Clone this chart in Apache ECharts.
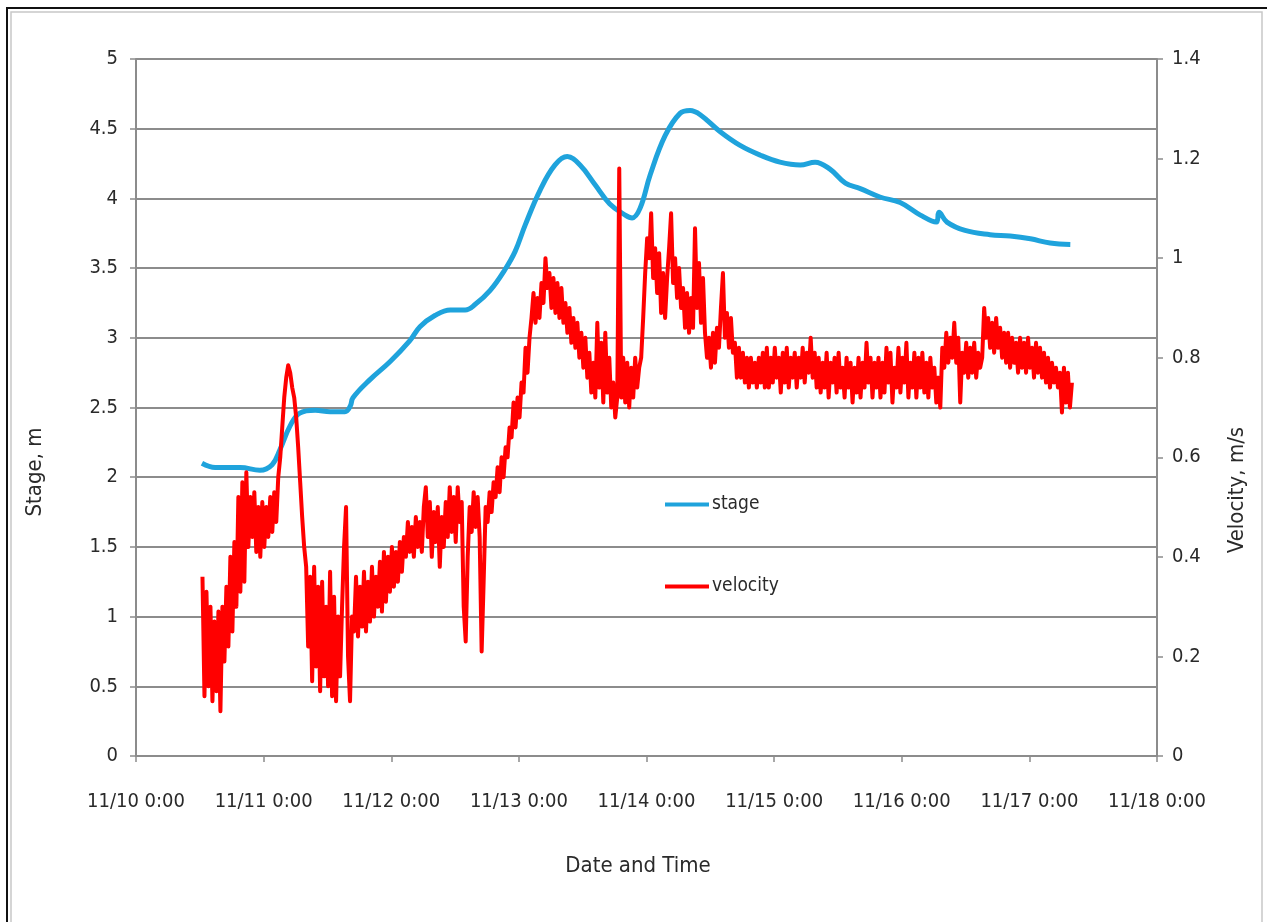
<!DOCTYPE html>
<html>
<head>
<meta charset="utf-8">
<title>Stage and velocity</title>
<script src="https://cdn.jsdelivr.net/npm/echarts@6/dist/echarts.min.js"></script>
<style>
  html, body { margin: 0; padding: 0; background: #ffffff; }
  #chart { width: 1267px; height: 922px; }
</style>
</head>
<body>
<div id="chart"></div>
<script>
// x axis: hours since 11/10 0:00, one label per day
const dayLabels = ['11/10 0:00', '11/11 0:00', '11/12 0:00', '11/13 0:00', '11/14 0:00',
                   '11/15 0:00', '11/16 0:00', '11/17 0:00', '11/18 0:00'];

// stage record (m), hours since 11/10 0:00
const stageHours = [12.4, 14.9, 19.6, 23.3, 25.6, 27.1, 29.0, 30.8, 33.7, 36.5,
                    39.3, 40.3, 40.8, 44.0, 47.8, 51.5, 53.4, 56.2, 59.1, 61.9,
                    63.8, 66.6, 69.4, 71.3, 73.2, 76.0, 78.8, 81.1, 83.5, 86.3,
                    89.1, 92.0, 93.3, 94.8, 96.7, 99.5, 102.3, 104.2, 106.1, 109.8,
                    113.6, 117.4, 121.1, 124.9, 127.7, 130.5, 133.4, 136.2, 139.9, 143.7,
                    147.5, 150.5, 151.0, 152.5, 155.9, 160.6, 164.4, 168.2, 171.9, 175.7];
const stageValues = [2.10, 2.07, 2.07, 2.05, 2.09, 2.20, 2.37, 2.46, 2.48, 2.47,
                     2.47, 2.51, 2.57, 2.70, 2.83, 2.98, 3.08, 3.16, 3.20, 3.20,
                     3.24, 3.34, 3.49, 3.62, 3.81, 4.06, 4.24, 4.30, 4.24, 4.10,
                     3.96, 3.88, 3.86, 3.93, 4.17, 4.45, 4.61, 4.63, 4.60, 4.48,
                     4.38, 4.31, 4.26, 4.24, 4.26, 4.21, 4.11, 4.07, 4.01, 3.97,
                     3.88, 3.83, 3.90, 3.83, 3.77, 3.74, 3.73, 3.71, 3.68, 3.67];

// velocity record (m/s), logged every 22.5 minutes from 11/10 12:30
const velocityStartHour = 12.5;
const velocityStepHours = 0.375;
const velocityValues = [
  0.36, 0.12, 0.33, 0.14, 0.30, 0.11, 0.27, 0.13, 0.29, 0.09,
  0.30, 0.19, 0.34, 0.22, 0.40, 0.25, 0.43, 0.30, 0.52, 0.33,
  0.55, 0.35, 0.57, 0.42, 0.52, 0.44, 0.53, 0.41, 0.50, 0.40,
  0.51, 0.42, 0.50, 0.44, 0.52, 0.45, 0.53, 0.47, 0.56, 0.60,
  0.66, 0.72, 0.76, 0.785, 0.77, 0.74, 0.72, 0.68, 0.62, 0.55,
  0.48, 0.42, 0.38, 0.22, 0.36, 0.15, 0.38, 0.18, 0.34, 0.13,
  0.35, 0.16, 0.30, 0.14, 0.37, 0.12, 0.32, 0.11, 0.28, 0.16,
  0.30, 0.42, 0.50, 0.20, 0.11, 0.28, 0.25, 0.36, 0.24, 0.34,
  0.26, 0.37, 0.25, 0.35, 0.27, 0.38, 0.28, 0.36, 0.30, 0.39,
  0.29, 0.41, 0.31, 0.40, 0.33, 0.42, 0.34, 0.41, 0.35, 0.43,
  0.37, 0.44, 0.40, 0.47, 0.41, 0.46, 0.40, 0.48, 0.42, 0.47,
  0.41, 0.50, 0.54, 0.44, 0.51, 0.40, 0.49, 0.43, 0.50, 0.38,
  0.48, 0.42, 0.51, 0.44, 0.54, 0.45, 0.52, 0.43, 0.54, 0.47,
  0.51, 0.30, 0.23, 0.40, 0.50, 0.45, 0.53, 0.46, 0.52, 0.44,
  0.21, 0.35, 0.50, 0.47, 0.53, 0.49, 0.55, 0.52, 0.58, 0.53,
  0.60, 0.56, 0.62, 0.60, 0.66, 0.64, 0.71, 0.66, 0.72, 0.68,
  0.75, 0.73, 0.82, 0.77, 0.84, 0.88, 0.93, 0.87, 0.92, 0.88,
  0.95, 0.91, 1.00, 0.94, 0.97, 0.90, 0.96, 0.89, 0.95, 0.88,
  0.94, 0.87, 0.91, 0.85, 0.90, 0.83, 0.88, 0.82, 0.87, 0.80,
  0.85, 0.78, 0.84, 0.76, 0.81, 0.73, 0.79, 0.72, 0.87, 0.74,
  0.83, 0.71, 0.85, 0.73, 0.80, 0.70, 0.75, 0.68, 0.72, 1.18,
  0.72, 0.80, 0.71, 0.79, 0.70, 0.78, 0.72, 0.80, 0.74, 0.78,
  0.80, 0.88, 0.97, 1.04, 1.00, 1.09, 0.96, 1.02, 0.93, 1.01,
  0.89, 0.97, 0.88, 0.96, 1.02, 1.09, 0.95, 1.00, 0.92, 0.98,
  0.90, 0.94, 0.86, 0.93, 0.85, 0.92, 0.86, 1.06, 0.90, 0.99,
  0.87, 0.96, 0.85, 0.80, 0.84, 0.78, 0.85, 0.79, 0.86, 0.82,
  0.90, 0.97, 0.84, 0.89, 0.82, 0.88, 0.81, 0.83, 0.76, 0.82,
  0.76, 0.81, 0.75, 0.80, 0.74, 0.80, 0.75, 0.79, 0.74, 0.80,
  0.75, 0.81, 0.74, 0.82, 0.74, 0.80, 0.75, 0.82, 0.76, 0.80,
  0.73, 0.81, 0.75, 0.82, 0.74, 0.80, 0.76, 0.81, 0.74, 0.80,
  0.76, 0.82, 0.75, 0.81, 0.77, 0.84, 0.76, 0.81, 0.74, 0.80,
  0.73, 0.79, 0.74, 0.81, 0.72, 0.79, 0.75, 0.80, 0.73, 0.81,
  0.74, 0.78, 0.72, 0.80, 0.74, 0.79, 0.71, 0.78, 0.73, 0.80,
  0.72, 0.79, 0.74, 0.83, 0.75, 0.80, 0.72, 0.79, 0.74, 0.80,
  0.72, 0.79, 0.73, 0.82, 0.75, 0.81, 0.71, 0.78, 0.74, 0.82,
  0.73, 0.80, 0.75, 0.83, 0.72, 0.79, 0.74, 0.81, 0.72, 0.80,
  0.74, 0.81, 0.73, 0.79, 0.72, 0.80, 0.74, 0.78, 0.71, 0.76,
  0.70, 0.82, 0.78, 0.85, 0.79, 0.84, 0.80, 0.87, 0.79, 0.84,
  0.71, 0.81, 0.77, 0.83, 0.76, 0.82, 0.77, 0.83, 0.76, 0.81,
  0.78, 0.80, 0.90, 0.84, 0.88, 0.82, 0.87, 0.81, 0.88, 0.82,
  0.86, 0.80, 0.85, 0.79, 0.85, 0.78, 0.84, 0.79, 0.83, 0.77,
  0.84, 0.78, 0.83, 0.77, 0.84, 0.78, 0.82, 0.76, 0.83, 0.77,
  0.82, 0.76, 0.81, 0.75, 0.80, 0.74, 0.79, 0.75, 0.78, 0.74,
  0.77, 0.69, 0.78, 0.71, 0.77, 0.70, 0.75
];

const FONT = "'Liberation Sans Narrow', 'DejaVu Sans Condensed', 'Liberation Sans', sans-serif";
const TEXT_COLOR = '#2a2a2a';
const GRID_COLOR = '#8c8c8c';

const stageData = stageHours.map((h, i) => [h, stageValues[i]]);
const velocityData = velocityValues.map((v, i) => [velocityStartHour + i * velocityStepHours, v]);

const chart = echarts.init(document.getElementById('chart'), null, { renderer: 'canvas' });

chart.setOption({
  backgroundColor: '#ffffff',
  animation: false,
  grid: { left: 136, right: 110, top: 59, bottom: 166, containLabel: false },
  legend: {
    orient: 'vertical',
    left: 660,
    top: 490,
    itemGap: 63,
    itemWidth: 44,
    itemHeight: 4,
    icon: 'rect',
    textStyle: { fontFamily: FONT, fontSize: 19, color: TEXT_COLOR, padding: [0, 0, 0, -2] },
    data: ['stage', 'velocity']
  },
  xAxis: {
    type: 'value',
    min: 0,
    max: 192,
    interval: 24,
    axisLine: { show: true, lineStyle: { color: GRID_COLOR, width: 2 } },
    axisTick: { show: true, inside: false, length: 6, lineStyle: { color: GRID_COLOR, width: 1.5 } },
    axisLabel: {
      margin: 36,
      fontFamily: FONT, fontSize: 20, color: TEXT_COLOR,
      formatter: v => dayLabels[Math.round(v / 24)]
    },
    splitLine: { show: false }
  },
  yAxis: [
    {
      type: 'value',
      position: 'left',
      min: 0, max: 5, interval: 0.5,
      axisLine: { show: true, lineStyle: { color: GRID_COLOR, width: 2 } },
      axisTick: { show: true, inside: false, length: 6, lineStyle: { color: GRID_COLOR, width: 1.5 } },
      axisLabel: { margin: 18, fontFamily: FONT, fontSize: 20, color: TEXT_COLOR },
      splitLine: { show: true, lineStyle: { color: GRID_COLOR, width: 2 } }
    },
    {
      type: 'value',
      position: 'right',
      min: 0, max: 1.4, interval: 0.2,
      axisLine: { show: true, lineStyle: { color: GRID_COLOR, width: 2 } },
      axisTick: { show: true, inside: false, length: 6, lineStyle: { color: GRID_COLOR, width: 1.5 } },
      axisLabel: { margin: 15, fontFamily: FONT, fontSize: 20, color: TEXT_COLOR },
      splitLine: { show: false }
    }
  ],
  graphic: [
    { type: 'rect', silent: true, shape: { x: 7, y: 8, width: 1280, height: 940 },
      style: { fill: 'none', stroke: '#111111', lineWidth: 2 } },
    { type: 'rect', silent: true, shape: { x: 11, y: 12, width: 1251, height: 940 },
      style: { fill: 'none', stroke: '#c8c8c8', lineWidth: 1.5 } },
    { type: 'text', silent: true, x: 35, y: 472, rotation: Math.PI / 2,
      style: { text: 'Stage, m', fontFamily: FONT, fontSize: 22, fill: TEXT_COLOR,
               align: 'center', verticalAlign: 'middle' } },
    { type: 'text', silent: true, x: 1237, y: 490, rotation: Math.PI / 2,
      style: { text: 'Velocity, m/s', fontFamily: FONT, fontSize: 22, fill: TEXT_COLOR,
               align: 'center', verticalAlign: 'middle' } },
    { type: 'text', silent: true, x: 638, y: 866,
      style: { text: 'Date and Time', fontFamily: FONT, fontSize: 22, fill: TEXT_COLOR,
               align: 'center', verticalAlign: 'middle' } }
  ],
  series: [
    {
      name: 'stage',
      type: 'line',
      yAxisIndex: 0,
      data: stageData,
      showSymbol: false,
      smooth: 0.4,
      color: '#1fa3dc',
      lineStyle: { color: '#1fa3dc', width: 5 },
      z: 2
    },
    {
      name: 'velocity',
      type: 'line',
      yAxisIndex: 1,
      data: velocityData,
      showSymbol: false,
      color: '#ff0000',
      lineStyle: { color: '#ff0000', width: 4, join: 'round' },
      z: 3
    }
  ]
});
</script>
</body>
</html>
